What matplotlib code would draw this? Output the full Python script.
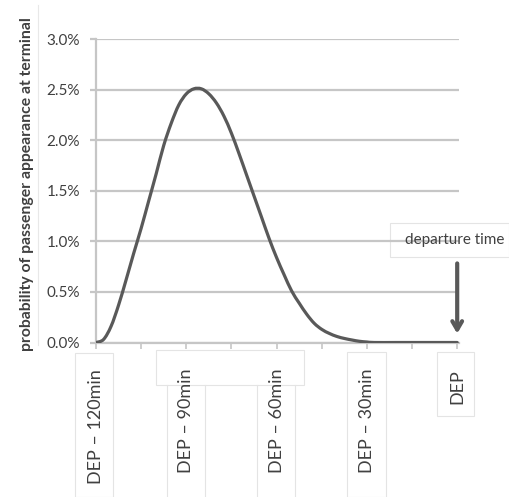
import matplotlib
matplotlib.use('Agg')
import matplotlib.pyplot as plt
from matplotlib.patches import Rectangle, PathPatch
from matplotlib.path import Path
from matplotlib.lines import Line2D
from matplotlib.ticker import FuncFormatter

# minutes relative to departure and share of passengers arriving at the terminal (%)
minutes = [-120, -117.5, -115, -112.5, -110, -107.5, -105, -102.5, -100, -97.5,
           -95, -92.5, -90, -87.5, -85, -82.5, -80, -77.5, -75, -72.5,
           -70, -67.5, -65, -62.5, -60, -57.5, -55, -52.5, -50, -47.5,
           -45, -42.5, -40, -37.5, -35, -32.5, -30, -27.5, -20, -10, 0]
share = [0.00, 0.03, 0.16, 0.37, 0.62, 0.88, 1.13, 1.40, 1.67, 1.95,
         2.17, 2.35, 2.46, 2.51, 2.51, 2.46, 2.37, 2.24, 2.07, 1.87,
         1.66, 1.45, 1.24, 1.03, 0.84, 0.67, 0.51, 0.39, 0.28, 0.19,
         0.13, 0.09, 0.06, 0.04, 0.025, 0.012, 0.005, 0.0, 0.0, 0.0, 0.0]

label_ticks = [-120, -90, -60, -30, 0]
label_text = ['DEP \u2013 120min', 'DEP \u2013 90min', 'DEP \u2013 60min', 'DEP \u2013 30min', 'DEP']
minor_ticks = [-105, -75, -45, -15]
y_ticks = [0.0, 0.5, 1.0, 1.5, 2.0, 2.5, 3.0]

plt.rcParams['font.family'] = ['Lato', 'DejaVu Sans']
TEXT = '#404040'
GRID = '#c6c6c6'
LINE = '#595959'

fig = plt.figure(figsize=(5.09, 4.97), dpi=100)
W, H = 509, 497


def px(x0, y0, x1, y1):
    # pixel box -> figure fraction rect
    return [x0 / W, 1 - y1 / H, (x1 - x0) / W, (y1 - y0) / H]


def smooth_path(xs, ys, tension=1 / 6):
    # spreadsheet-style smoothed line: Catmull-Rom segments as cubic Beziers
    verts = [(xs[0], ys[0])]
    codes = [Path.MOVETO]
    n = len(xs)
    for i in range(n - 1):
        x0, y0 = (xs[i - 1], ys[i - 1]) if i > 0 else (xs[i], ys[i])
        x1, y1 = xs[i], ys[i]
        x2, y2 = xs[i + 1], ys[i + 1]
        x3, y3 = (xs[i + 2], ys[i + 2]) if i + 2 < n else (x2, y2)
        verts += [(x1 + (x2 - x0) * tension, y1 + (y2 - y0) * tension),
                  (x2 - (x3 - x1) * tension, y2 - (y3 - y1) * tension),
                  (x2, y2)]
        codes += [Path.CURVE4] * 3
    return Path(verts, codes)


# faint text-box outlines around the labels
box_edge = '#e4e4e4'
for (x0, y0, x1, y1) in [(75, 353, 113, 497), (156, 350, 304, 385), (347, 352, 386, 497),
                         (437, 352, 474, 416), (390, 223, 509, 257)]:
    fig.patches.append(Rectangle((x0 / W, 1 - y1 / H), (x1 - x0) / W, (y1 - y0) / H,
                                 transform=fig.transFigure, facecolor='none',
                                 edgecolor=box_edge, linewidth=0.8, zorder=0))
for xv in [167, 205, 257, 295]:
    fig.lines.append(Line2D([xv / W, xv / W], [0, 1 - 385 / H], transform=fig.transFigure,
                            color=box_edge, linewidth=0.8, zorder=0))
fig.lines.append(Line2D([38 / W, 38 / W], [1 - 345 / H, 1 - 5 / H], transform=fig.transFigure,
                        color='#e8e8e8', linewidth=0.8, zorder=0))

ax = fig.add_axes(px(96, 39.3, 459, 342.5))
ax.set_zorder(2)
ax.set_facecolor('none')
ax.add_patch(PathPatch(smooth_path(minutes, share), facecolor='none', edgecolor=LINE,
                       linewidth=2.3, capstyle='round', joinstyle='round', zorder=3))

ax.set_xlim(-120, 0.6)
ax.set_ylim(0, 3.0)
ax.set_yticks(y_ticks)
ax.yaxis.set_major_formatter(FuncFormatter(lambda v, p: f'{v:.1f}%'))
ax.grid(axis='y', color=GRID, linewidth=1.6)
ax.set_axisbelow(True)

ax.set_xticks(label_ticks)
ax.set_xticklabels(label_text, rotation=90, va='top', ha='center')
ax.set_xticks(minor_ticks, minor=True)

for s in ['top', 'right']:
    ax.spines[s].set_visible(False)
for s in ['left', 'bottom']:
    ax.spines[s].set_color(GRID)
    ax.spines[s].set_linewidth(1.6)

ax.tick_params(axis='y', length=4.5, width=1.6, color=GRID, labelcolor=TEXT,
               labelsize=11, pad=7)
ax.tick_params(axis='x', which='both', length=4, width=1.2, color=GRID)
ax.tick_params(axis='x', which='major', labelcolor=TEXT, labelsize=13, pad=15)

fig.text(27 / W, 1 - 184 / H, 'probability of passenger appearance at terminal',
         rotation=90, ha='center', va='center', fontsize=11.3, fontweight='bold', color=TEXT)

fig.text(455 / W, 1 - 240 / H, 'departure time', ha='center', va='center',
         fontsize=11, color=TEXT)
ax.annotate('', xy=(0, 0.06), xytext=(0, 0.81),
            arrowprops=dict(arrowstyle='->,head_length=0.6,head_width=0.35',
                            color=LINE, linewidth=3))

fig.savefig('out.png', dpi=100, facecolor='white')
